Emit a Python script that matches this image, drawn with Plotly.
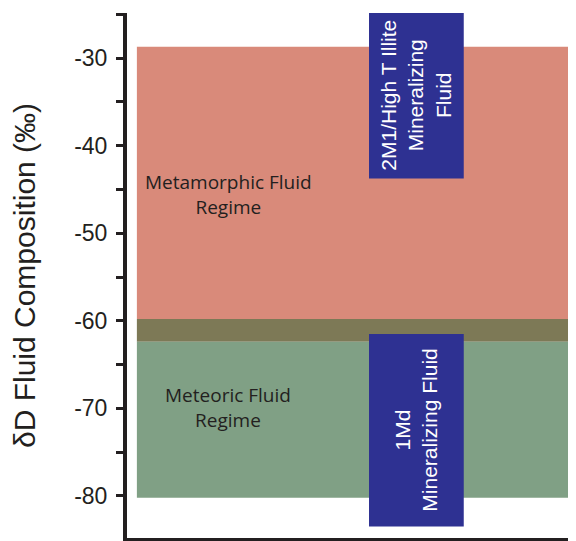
import plotly.graph_objects as go

# ---- data (delta-D values in per mil) ----
regime_names = ["Metamorphic Fluid<br>Regime", "Overlap", "Meteoric Fluid<br>Regime"]
regime_top = [-28.7, -59.8, -62.4]
regime_bottom = [-59.8, -62.4, -80.2]
regime_colors = ["#D98A7A", "#7D7956", "#80A085"]
regime_label_y = [-45.6, None, -69.85]

fluid_names = ["2M1/High T Illite<br>Mineralizing<br>Fluid", "1Md<br>Mineralizing Fluid"]
fluid_top = [-24.75, -61.5]
fluid_bottom = [-43.75, -83.5]

# horizontal layout in relative x units (0-100 across plot)
band_x = [2.2, 100]
box_x = [53.9, 75.0]
regime_label_x = 22.5

tick_vals = [-80, -75, -70, -65, -60, -55, -50, -45, -40, -35, -30, -25]
tick_text = [str(v) if v % 10 == 0 else "" for v in tick_vals]

fig = go.Figure()

shapes = []
for top, bot, col in zip(regime_top, regime_bottom, regime_colors):
    shapes.append(dict(type="rect", xref="x", yref="y", x0=band_x[0], x1=band_x[1],
                       y0=bot, y1=top, fillcolor=col, line=dict(width=0), layer="below"))
for top, bot in zip(fluid_top, fluid_bottom):
    shapes.append(dict(type="rect", xref="x", yref="y", x0=box_x[0], x1=box_x[1],
                       y0=bot, y1=top, fillcolor="#2E3192", line=dict(width=0), layer="above"))

annotations = []
for name, ly in zip(regime_names, regime_label_y):
    if ly is None:
        continue
    annotations.append(dict(x=regime_label_x, y=ly, xref="x", yref="y", text=name,
                            showarrow=False, align="center",
                            font=dict(family="Open Sans", size=19, color="#231F20")))
for name, top, bot in zip(fluid_names, fluid_top, fluid_bottom):
    annotations.append(dict(x=(box_x[0] + box_x[1]) / 2, y=(top + bot) / 2, xref="x", yref="y",
                            text=name, showarrow=False, textangle=-90, align="center",
                            font=dict(family="Liberation Sans", size=21, color="white")))

# invisible trace to anchor axes
fig.add_trace(go.Scatter(x=[0, 100], y=[-80, -30], mode="markers",
                         marker=dict(opacity=0), hoverinfo="skip", showlegend=False))

# page body has an 8px default margin, so the figure is sized to fit the window
fig.update_layout(
    width=568, height=533,
    margin=dict(l=119, r=0, t=5, b=3),
    paper_bgcolor="white", plot_bgcolor="white",
    shapes=shapes, annotations=annotations,
    showlegend=False,
    xaxis=dict(range=[0, 100], showline=True, linewidth=4, linecolor="#231F20",
               showgrid=False, zeroline=False, showticklabels=False, ticks="",
               automargin=False),
    yaxis=dict(range=[-84.8, -24.85], showline=True, linewidth=4, linecolor="#231F20",
               showgrid=False, zeroline=False, tickmode="array", tickvals=tick_vals,
               ticktext=tick_text, ticks="outside", ticklen=7, tickwidth=3,
               tickcolor="#231F20", ticklabelstandoff=4, automargin=False,
               tickfont=dict(family="Liberation Sans", size=23, color="#231F20"),
               title=dict(text="δD Fluid Composition (‰)", standoff=37,
                          font=dict(family="Liberation Sans", size=30, color="#231F20"))),
)

fig.write_html("out.html")
